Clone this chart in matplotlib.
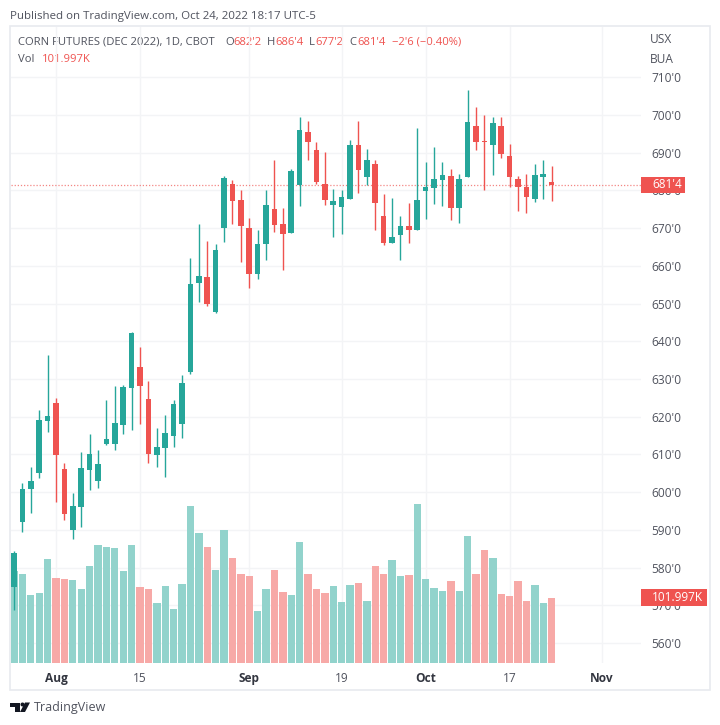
import numpy as np
import matplotlib
matplotlib.use('Agg')
import matplotlib.pyplot as plt
from matplotlib.patches import Rectangle, Polygon, Circle

plt.rcParams['font.family'] = ['Open Sans', 'DejaVu Sans']

# daily prices (cents), one entry per trading day from Jul 25 to Oct 24
opens = [574.8, 592.2, 600.7, 605.1, 618.9, 623.6, 606.0, 589.9, 596.1, 605.9, 602.9, 612.8, 612.8,
         617.9, 627.7, 633.1, 624.7, 609.9, 611.8, 615.0, 618.1, 631.9, 655.4, 657.0, 647.8, 670.1,
         681.7, 677.5, 670.0, 657.9, 665.7, 675.0, 671.0, 668.8, 681.4, 695.5, 690.7, 681.7, 676.1,
         675.7, 677.6, 692.0, 683.5, 686.9, 673.3, 666.1, 668.2, 670.6, 669.4, 679.8, 680.7, 682.8,
         683.7, 675.3, 683.6, 697.0, 693.2, 692.0, 697.0, 689.0, 682.9, 681.0, 677.8, 683.5, 682.25]
highs = [584.4, 602.5, 606.7, 621.8, 636.4, 624.9, 607.6, 599.8, 610.6, 615.3, 611.1, 624.5, 628.1,
         628.5, 642.5, 638.4, 629.5, 616.9, 620.5, 624.5, 631.1, 662.0, 671.0, 666.5, 665.8, 683.8,
         682.8, 680.1, 672.6, 669.5, 680.1, 688.0, 675.3, 685.7, 699.5, 698.3, 692.8, 690.1, 680.4,
         680.0, 693.4, 698.4, 690.9, 688.0, 679.0, 677.9, 673.3, 676.7, 696.4, 687.5, 691.5, 687.5,
         685.6, 684.4, 706.6, 702.0, 699.9, 699.4, 699.4, 692.2, 683.7, 684.4, 686.9, 688.0, 686.5]
lows = [568.7, 589.5, 594.4, 603.8, 616.0, 597.3, 592.5, 587.6, 590.7, 600.5, 601.2, 612.4, 611.2,
        615.3, 616.4, 618.1, 607.8, 606.7, 604.1, 612.0, 614.3, 631.3, 650.3, 649.4, 647.4, 666.2,
        671.1, 661.0, 654.1, 656.6, 661.6, 669.0, 659.0, 668.8, 675.9, 688.1, 681.6, 676.2, 667.5,
        668.4, 677.6, 679.2, 681.4, 669.6, 665.6, 666.0, 661.6, 666.1, 669.4, 672.4, 676.5, 675.9,
        672.2, 671.4, 683.6, 690.7, 680.1, 684.1, 688.7, 681.0, 674.6, 674.1, 676.8, 677.8, 677.25]
closes = [583.9, 600.8, 602.9, 619.1, 620.1, 609.8, 594.3, 596.2, 606.3, 610.0, 607.4, 614.1, 618.4,
          627.9, 642.2, 628.1, 610.2, 611.9, 615.7, 623.3, 628.9, 655.3, 657.2, 650.0, 664.3, 683.3,
          677.2, 670.5, 657.9, 665.8, 676.1, 670.8, 668.4, 685.0, 695.9, 692.7, 682.2, 677.4, 677.3,
          678.3, 692.0, 685.3, 688.1, 676.6, 666.1, 667.5, 670.6, 669.4, 677.5, 680.8, 682.9, 684.0,
          675.3, 683.1, 698.2, 692.8, 692.8, 697.8, 689.7, 683.5, 681.0, 678.2, 684.0, 684.3, 681.5]
# volume in thousands
volumes = [143.8, 139.1, 106.7, 109.3, 163.7, 132.9, 131.3, 130.2, 115.6, 151.7, 184.6, 181.5, 179.9,
           143.8, 184.6, 118.7, 115.6, 94.1, 120.3, 84.2, 124.0, 246.9, 204.5, 181.5, 145.4, 208.2,
           165.3, 139.1, 136.5, 82.1, 115.6, 145.4, 110.9, 106.7, 189.8, 140.2, 116.6, 110.4, 120.3,
           95.7, 121.9, 125.0, 96.8, 152.7, 139.1, 161.1, 136.0, 137.5, 249.0, 131.3, 117.7, 113.0,
           128.1, 113.0, 198.7, 139.1, 177.8, 165.3, 107.7, 105.6, 128.1, 96.8, 122.9, 94.1, 101.997]
# volume colour follows the candle except on a couple of days
vol_up = [1, 1, 1, 1, 1, 0, 0, 1, 1, 1, 1, 1, 1, 1, 1, 0, 0, 1, 1, 1, 1, 1, 1, 0, 1, 1,
          0, 0, 0, 1, 1, 0, 0, 1, 1, 0, 0, 0, 1, 1, 1, 0, 1, 0, 0, 1, 1, 0, 1, 1, 1, 1,
          0, 1, 1, 0, 0, 1, 0, 0, 0, 0, 1, 1, 0]

x_ticks = [5, 15, 28, 39, 49, 59, 70]
x_labels = ['Aug', '15', 'Sep', '19', 'Oct', '17', 'Nov']
month_labels = ['Aug', 'Sep', 'Oct', 'Nov']
y_ticks = list(range(560, 720, 10))
y_labels = ["%d'0" % p for p in y_ticks]

UP = '#26a69a'
DOWN = '#ef5350'
TEXT = '#50535e'
GRID = '#f3f4f6'
W, H = 720, 725
VOL_MAX = 998.0

fig = plt.figure(figsize=(W / 100, H / 100), dpi=100, facecolor='white')

# whole-figure layer in pixels for the frame, header and logo
page = fig.add_axes([0, 0, 1, 1], zorder=0)
page.set_xlim(0, W)
page.set_ylim(H, 0)
page.axis('off')
page.add_patch(Rectangle((10, 26), 700, 664, fc='white', ec='#e8eaef', lw=1.2))

# plot area: x 11..641, y 27..663 px
ax = fig.add_axes([11 / W, 1 - 663 / H, 630 / W, 636 / H], zorder=1)
ax.patch.set_alpha(0)
ax.set_xlim(-0.357, 74.64)
ax.set_ylim(554.7, 723.3)
for s in ax.spines.values():
    s.set_visible(False)

x = np.arange(len(opens))
o, h, l, c = map(np.array, (opens, highs, lows, closes))
colors = np.where(c >= o, UP, DOWN)

ax.grid(True, color=GRID, lw=1)
ax.set_axisbelow(True)

# volume bars sit on the bottom of the pane
ax.bar(x, np.array(volumes) / VOL_MAX, width=0.88, bottom=0,
       color=np.where(np.array(vol_up) == 1, '#92d3cc', '#f7a9a7'),
       transform=ax.get_xaxis_transform(), zorder=1)

ax.axhline(closes[-1], color=DOWN, lw=0.9, ls=(0, (1, 1.5)), alpha=0.7, zorder=2)

ax.vlines(x, l, h, colors=colors, lw=1, zorder=3)
ax.bar(x, np.maximum(np.abs(c - o), 0.3), width=0.66, bottom=np.minimum(o, c), color=colors, zorder=4)

ax.yaxis.tick_right()
ax.set_yticks(y_ticks)
ax.set_yticklabels(y_labels)
ax.set_xticks(x_ticks)
ax.set_xticklabels(x_labels)
ax.tick_params(axis='y', length=0, pad=7.5, labelsize=8.6, labelcolor=TEXT)
ax.tick_params(axis='x', length=0, pad=6.5, labelsize=8.6, labelcolor=TEXT)
for lab in ax.get_xticklabels():
    if lab.get_text() in month_labels:
        lab.set_fontweight('bold')
        lab.set_color('#333640')


def value_tag(y_val, text, width_px, height_px):
    # red tag on the price scale
    y_span = height_px / 636 * (723.3 - 554.7)
    ax.add_patch(Rectangle((1, y_val - y_span / 2), width_px / 630, y_span, fc=DOWN, ec='none',
                           transform=ax.get_yaxis_transform(), clip_on=False, zorder=5))
    ax.text(1 + 11 / 630, y_val, text, color='white', fontsize=8.5, ha='left', va='center',
            transform=ax.get_yaxis_transform(), clip_on=False, zorder=6)


value_tag(closes[-1], "681'4", 44, 16)
value_tag(554.7 + volumes[-1] / VOL_MAX * (723.3 - 554.7), '101.997K', 66, 17)

# header and legend
page.text(10, 16, 'Published on TradingView.com, Oct 24, 2022 18:17 UTC-5', color=TEXT, fontsize=8.25, va='center')
page.text(650, 39, 'USX', color=TEXT, fontsize=8.6, va='center')
page.text(650, 59, 'BUA', color=TEXT, fontsize=8.6, va='center')

legend_y = 42
page.text(18, legend_y, 'CORN FUTURES (DEC 2022), 1D, CBOT', color=TEXT, fontsize=8.1, va='center')
for px, txt, col in [(225, 'O', TEXT), (233, "682'2", DOWN), (267, 'H', TEXT), (275, "686'4", DOWN),
                     (309, 'L', TEXT), (315, "677'2", DOWN), (349, 'C', TEXT), (357, "681'4", DOWN),
                     (392, "\u22122'6 (\u22120.40%)", DOWN)]:
    page.text(px, legend_y, txt, color=col, fontsize=8.1, va='center')
page.text(18, 59, 'Vol', color=TEXT, fontsize=8.1, va='center')
page.text(42, 59, '101.997K', color=DOWN, fontsize=8.1, va='center')

# TradingView logo
page.add_patch(Polygon([(10, 702.5), (19.5, 702.5), (19.5, 712), (14.5, 712), (14.5, 706.5), (10, 706.5)], fc='#131722', ec='none'))
page.add_patch(Circle((22.5, 704.5), 2, fc='#131722', ec='none'))
page.add_patch(Polygon([(25, 702.5), (30, 702.5), (25, 712), (20, 712)], fc='#131722', ec='none'))
page.text(34, 708, 'TradingView', color=TEXT, fontsize=9, va='center')

fig.savefig('out.png', dpi=100)
